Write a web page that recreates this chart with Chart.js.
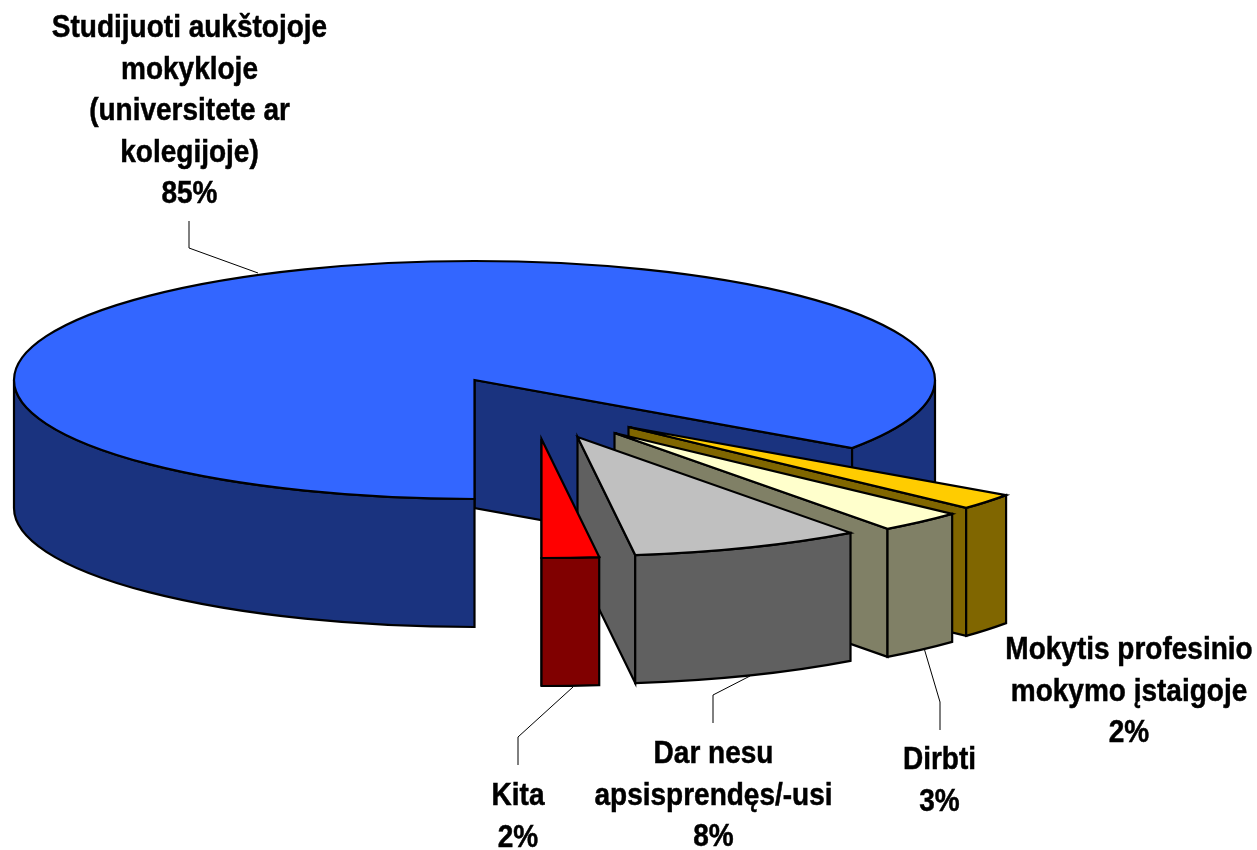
<!DOCTYPE html>
<html>
<head>
<meta charset="utf-8">
<title>Pie</title>
<script src="https://cdn.jsdelivr.net/npm/chart.js@4/dist/chart.umd.min.js"></script>
<style>
  html, body { margin: 0; padding: 0; background: #fff; }
  canvas { display: block; }
</style>
</head>
<body>
<canvas id="pie3d" width="1257" height="850"></canvas>
<script>
// ========== DATA ==========
const categories = [
  'Studijuoti aukštojoje mokykloje (universitete ar kolegijoje)',
  'Mokytis profesinio mokymo įstaigoje',
  'Dirbti',
  'Dar nesu apsisprendęs/-usi',
  'Kita'
];
// the printed labels are these values rounded
const shares = [84.7, 2.2, 3.0, 8.1, 2.0];
const labelLines = [
  ['Studijuoti aukštojoje', 'mokykloje', '(universitete ar', 'kolegijoje)'],
  ['Mokytis profesinio', 'mokymo įstaigoje'],
  ['Dirbti'],
  ['Dar nesu', 'apsisprendęs/-usi'],
  ['Kita']
];

// ========== STYLE ==========
const topColors = ['#3366FF', '#FFCC00', '#FFFFCC', '#C0C0C0', '#FF0000'];
const sideColors = ['#1A337F', '#806600', '#808066', '#606060', '#800000'];

// ellipse of the pie top and wall height
const pieCenter = { x: 474.5, y: 380 };
const rx = 460.5;
const ry = 119;
const depth = 128;
const edgeWidth = 2.2;

// how far each slice was pulled out, in px on screen
const explode = [[0, 0], [154, 47], [140, 53], [103, 57], [67, 59]];

// text
const fontPx = 32;
const textSqueeze = 0.875;
const lineGap = 41.5;
const labelAnchor = [[189.5, 37], [1129, 659], [939.5, 769], [713.5, 763], [518, 805]];
const leaders = [
  [[189, 221], [189, 248], [258, 273]],
  [],
  [[924, 648], [940, 702], [940, 730]],
  [[750, 676], [713, 695], [713, 723]],
  [[573, 687], [518, 737], [518, 765]]
];

function rim(cx, cy, t) {
  return [cx + rx * Math.cos(t), cy + ry * Math.sin(t)];
}

function paint(ctx, fill) {
  ctx.fillStyle = fill;
  ctx.fill();
  ctx.lineWidth = edgeWidth;
  ctx.strokeStyle = '#000';
  ctx.stroke();
}

// cut face on the clockwise end of the slice, the only one we can see from here
function drawCutFace(ctx, cx, cy, a1, fill) {
  const [px, py] = rim(cx, cy, a1);
  ctx.beginPath();
  ctx.moveTo(cx, cy);
  ctx.lineTo(px, py);
  ctx.lineTo(px, py + depth);
  ctx.lineTo(cx, cy + depth);
  ctx.closePath();
  paint(ctx, fill);
}

// outer wall, only where the rim faces the viewer
function drawWall(ctx, cx, cy, a0, a1, fill) {
  for (let k = 0; k < 2; k++) {
    const from = Math.max(a0, k * 2 * Math.PI);
    const to = Math.min(a1, k * 2 * Math.PI + Math.PI);
    if (to <= from) continue;
    const [px, py] = rim(cx, cy, to);
    ctx.beginPath();
    ctx.ellipse(cx, cy, rx, ry, 0, from, to);
    ctx.lineTo(px, py + depth);
    ctx.ellipse(cx, cy + depth, rx, ry, 0, to, from, true);
    ctx.closePath();
    paint(ctx, fill);
  }
}

const pie3dPlugin = {
  id: 'pie3d',
  beforeDatasetsDraw(chart) {
    const ctx = chart.ctx;
    const arcs = chart.getDatasetMeta(0).data;

    arcs.forEach((el, i) => {
      const cx = pieCenter.x + explode[i][0];
      const cy = pieCenter.y + explode[i][1];
      const a0 = el.startAngle;
      const a1 = el.endAngle;

      ctx.save();
      drawCutFace(ctx, cx, cy, a1, sideColors[i]);
      drawWall(ctx, cx, cy, a0, a1, sideColors[i]);
      ctx.restore();

      // top of the slice, squashed from the library's own arc
      ctx.save();
      ctx.translate(cx, cy);
      ctx.scale(rx / el.outerRadius, ry / el.outerRadius);
      ctx.translate(-el.x, -el.y);
      el.draw(ctx);
      ctx.restore();

      ctx.save();
      ctx.beginPath();
      ctx.moveTo(cx, cy);
      ctx.ellipse(cx, cy, rx, ry, 0, a0, a1);
      ctx.closePath();
      ctx.lineWidth = edgeWidth;
      ctx.strokeStyle = '#000';
      ctx.stroke();
      ctx.restore();
    });
    return false;
  },
  afterDraw(chart) {
    const ctx = chart.ctx;

    // leader lines
    ctx.save();
    ctx.lineWidth = 1;
    ctx.strokeStyle = '#000';
    leaders.forEach(pts => {
      if (!pts.length) return;
      ctx.beginPath();
      pts.forEach((p, j) => j ? ctx.lineTo(p[0], p[1]) : ctx.moveTo(p[0], p[1]));
      ctx.stroke();
    });
    ctx.restore();

    // labels
    ctx.save();
    ctx.fillStyle = '#000';
    ctx.strokeStyle = '#000';
    ctx.lineWidth = 0.5;
    ctx.font = 'bold ' + fontPx + 'px "Liberation Sans", Arial, sans-serif';
    ctx.textAlign = 'center';
    ctx.textBaseline = 'alphabetic';
    shares.forEach((v, i) => {
      const lines = labelLines[i].concat(Math.round(v) + '%');
      lines.forEach((txt, j) => {
        ctx.save();
        ctx.translate(labelAnchor[i][0], labelAnchor[i][1] + j * lineGap);
        ctx.scale(textSqueeze, 1);
        ctx.fillText(txt, 0, 0);
        ctx.strokeText(txt, 0, 0);
        ctx.restore();
      });
    });
    ctx.restore();
  }
};

new Chart(document.getElementById('pie3d'), {
  type: 'pie',
  data: {
    labels: categories,
    datasets: [{
      data: shares,
      backgroundColor: topColors,
      borderWidth: 0
    }]
  },
  options: {
    responsive: false,
    animation: false,
    rotation: 180,
    layout: { padding: 0 },
    plugins: {
      legend: { display: false },
      tooltip: { enabled: false }
    }
  },
  plugins: [pie3dPlugin]
});
</script>
</body>
</html>
